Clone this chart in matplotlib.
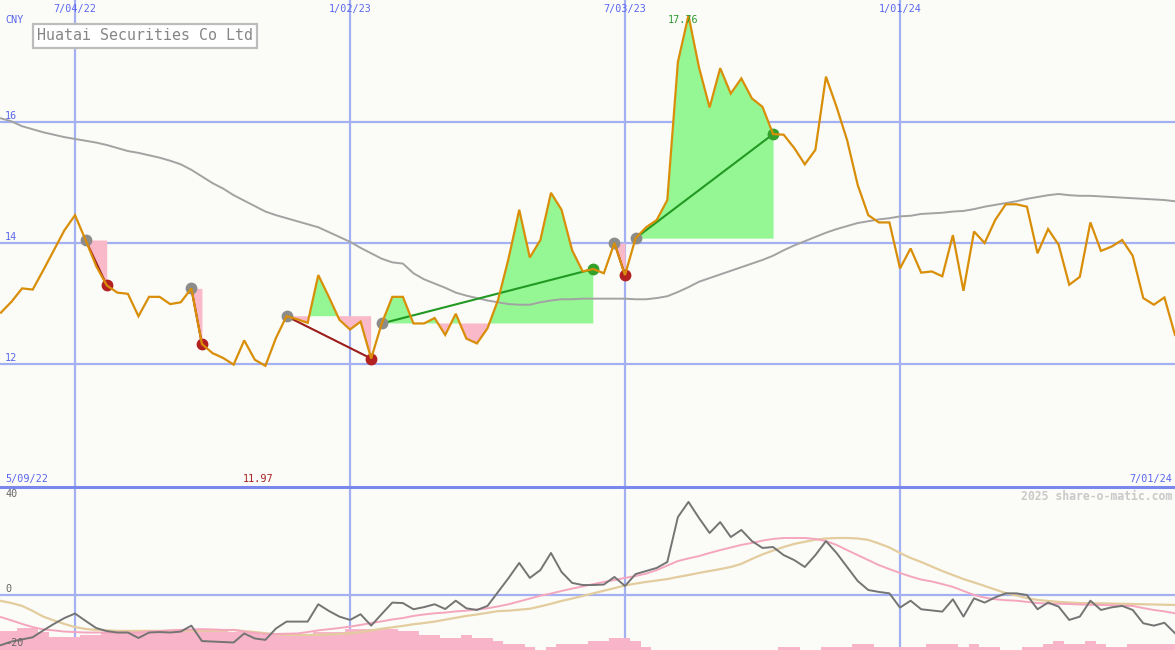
import numpy as np
import pandas as pd
import matplotlib
matplotlib.use("Agg")
import matplotlib.pyplot as plt
import matplotlib.dates as mdates
from matplotlib.transforms import blended_transform_factory
from matplotlib.lines import Line2D

# ---------------- data ----------------
dates = pd.date_range("2022-05-16", periods=112, freq="7D")

price = [12.85, 13.03, 13.25, 13.23, 13.55, 13.88, 14.21, 14.46,
         14.05, 13.62, 13.30, 13.18, 13.16, 12.79, 13.11, 13.11, 12.99, 13.02,
         13.25, 12.33, 12.18, 12.10, 11.99, 12.39, 12.07, 11.97, 12.43, 12.79,
         12.74, 12.68, 13.47, 13.11, 12.73, 12.57, 12.70, 12.09, 12.67, 13.11,
         13.11, 12.67, 12.67, 12.76, 12.48, 12.83, 12.42, 12.34, 12.59, 13.06,
         13.75, 14.55, 13.76, 14.05, 14.83, 14.55, 13.88, 13.53, 13.57, 13.50,
         14.00, 13.47, 14.08, 14.26, 14.38, 14.71, 16.99, 17.76, 16.90, 16.24,
         16.89, 16.47, 16.72, 16.39, 16.25, 15.80, 15.79, 15.57, 15.30, 15.54,
         16.75, 16.25, 15.70, 14.96, 14.46, 14.34, 14.34, 13.58, 13.91, 13.51,
         13.53, 13.45, 14.13, 13.21, 14.19, 14.00, 14.38, 14.64, 14.64, 14.60,
         13.83, 14.23, 13.97, 13.31, 13.44, 14.34, 13.87, 13.94, 14.05, 13.79,
         13.09, 12.98, 13.10, 12.48]

ma40 = [16.06, 16.01, 15.93, 15.88, 15.83, 15.79, 15.75, 15.72,
        15.69, 15.66, 15.62, 15.57, 15.52, 15.49, 15.45, 15.41, 15.36, 15.30,
        15.21, 15.10, 14.99, 14.90, 14.79, 14.70, 14.61, 14.52, 14.46, 14.41,
        14.36, 14.31, 14.26, 14.18, 14.10, 14.02, 13.92, 13.83, 13.74, 13.68,
        13.66, 13.50, 13.40, 13.33, 13.26, 13.18, 13.13, 13.09, 13.05, 13.02,
        12.99, 12.98, 12.98, 13.02, 13.05, 13.07, 13.07, 13.08, 13.08, 13.08,
        13.08, 13.08, 13.07, 13.07, 13.09, 13.12, 13.19, 13.27, 13.36, 13.42,
        13.48, 13.54, 13.60, 13.66, 13.72, 13.79, 13.88, 13.96, 14.03, 14.10,
        14.17, 14.23, 14.28, 14.33, 14.36, 14.39, 14.41, 14.44, 14.45, 14.48,
        14.49, 14.50, 14.52, 14.53, 14.56, 14.60, 14.63, 14.66, 14.69, 14.73,
        14.76, 14.79, 14.81, 14.79, 14.78, 14.78, 14.77, 14.76, 14.75, 14.74,
        14.73, 14.72, 14.71, 14.69]

osc = [-21.1, -19.6, -18.7, -17.8, -14.9, -12.2, -9.7, -7.8,
       -10.9, -13.9, -15.2, -15.8, -15.8, -18.1, -15.8, -15.6, -15.8, -15.4,
       -12.9, -19.4, -19.6, -19.8, -20.0, -16.2, -18.3, -18.9, -14.1, -11.2,
       -11.2, -11.2, -3.9, -6.7, -9.1, -10.5, -8.1, -12.9, -8.0, -3.2,
       -3.4, -6.0, -5.1, -3.9, -5.9, -2.4, -5.6, -6.3, -4.6, 1.3,
       7.2, 13.5, 7.2, 10.5, 17.7, 9.7, 5.1, 4.2, 4.2, 4.4,
       7.6, 3.8, 8.8, 10.1, 11.4, 13.9, 32.8, 39.2, 32.4, 26.1,
       30.7, 24.4, 27.4, 22.7, 19.8, 20.2, 16.8, 14.7, 11.8, 16.8,
       22.7, 17.7, 11.8, 5.9, 2.1, 1.3, 0.7, -5.3, -2.4, -6.0,
       -6.5, -7.0, -1.8, -9.1, -1.4, -3.2, -1.0, 0.7, 0.7, 0.0,
       -6.0, -3.2, -4.9, -10.5, -9.1, -2.4, -6.3, -5.2, -4.6, -6.3,
       -11.9, -12.9, -11.7, -16.1]

osc_fast = [-9.3, -10.7, -12.2, -13.5, -14.5, -14.9, -15.4, -15.6,
            -15.8, -15.8, -15.8, -15.8, -15.8, -15.8, -15.4, -15.2, -14.9, -14.7,
            -14.5, -14.4, -14.5, -14.7, -14.7, -15.4, -16.0, -16.5, -16.4, -16.3,
            -16.2, -15.6, -14.9, -14.4, -13.9, -13.3, -12.6, -11.8, -11.1, -10.3,
            -9.7, -8.8, -8.2, -7.7, -7.4, -6.9, -6.6, -6.1, -5.6, -4.8,
            -3.9, -2.7, -1.5, -0.3, 0.6, 1.7, 2.7, 3.6, 4.6, 5.5,
            6.3, 7.2, 8.0, 9.0, 10.5, 12.4, 14.3, 15.4, 16.4, 17.7,
            18.9, 20.0, 21.1, 21.9, 22.9, 23.6, 24.0, 24.0, 24.0, 23.6,
            22.7, 21.1, 18.9, 16.8, 14.7, 12.6, 10.9, 9.3, 7.8, 6.5,
            5.7, 4.6, 3.4, 1.7, 0.0, -1.1, -1.8, -2.2, -2.4, -2.9,
            -3.4, -3.6, -3.7, -3.8, -4.0, -4.1, -4.2, -4.3, -4.5, -4.6,
            -5.5, -6.3, -6.9, -7.7]

osc_slow = [-2.5, -3.4, -4.6, -6.7, -9.1, -10.7, -12.2, -13.5,
            -14.3, -14.7, -14.9, -15.1, -15.1, -15.1, -15.1, -15.1, -15.0, -15.0,
            -15.0, -15.0, -15.0, -15.0, -14.7, -15.2, -15.6, -16.1, -16.5, -16.8,
            -16.8, -16.8, -16.8, -16.6, -16.4, -16.1, -15.6, -14.9, -14.2, -13.6,
            -13.0, -12.3, -11.8, -11.2, -10.4, -9.6, -8.8, -8.2, -7.5, -6.8,
            -6.6, -6.2, -5.8, -4.8, -3.7, -2.5, -1.5, -0.4, 0.7, 1.8,
            2.9, 4.0, 4.8, 5.5, 6.1, 6.7, 7.6, 8.4, 9.3, 10.1,
            10.9, 11.8, 13.1, 15.2, 17.1, 18.7, 20.2, 21.5, 22.4, 23.3,
            23.8, 24.0, 24.0, 23.8, 23.2, 21.7, 20.0, 17.7, 15.6, 13.9,
            12.0, 10.1, 8.4, 6.7, 5.3, 3.8, 2.3, 0.8, -0.2, -1.3,
            -2.1, -2.5, -2.9, -3.2, -3.4, -3.5, -3.5, -3.6, -3.7, -3.8,
            -3.9, -4.0, -4.1, -4.2]

volume = [8.1, 8.1, 9.1, 9.1, 7.7, 5.3, 5.3, 5.3,
          6.3, 6.3, 7.3, 7.3, 7.3, 7.3, 7.3, 8.4, 8.4, 8.7,
          8.7, 8.7, 8.4, 8.4, 7.7, 7.7, 7.2, 6.3, 6.3, 6.3,
          6.3, 6.3, 7.7, 7.7, 7.7, 8.8, 8.8, 8.8, 8.8, 8.8,
          8.1, 8.1, 6.3, 6.3, 4.9, 4.9, 6.3, 4.9, 4.9, 3.8,
          2.5, 2.5, 1.1, 0.0, 1.1, 2.5, 2.5, 2.5, 3.8, 3.8,
          4.9, 4.9, 3.8, 1.1, 0.0, 0.0, 0.0, 0.0, 0.0, 0.0,
          0.0, 0.0, 0.0, 0.0, 0.0, 0.0, 1.1, 1.1, 0.0, 0.0,
          1.1, 1.1, 1.1, 2.5, 2.5, 1.1, 1.1, 1.1, 1.1, 1.1,
          2.5, 2.5, 2.5, 1.1, 2.5, 1.1, 1.1, 0.0, 0.0, 1.1,
          1.1, 2.5, 3.8, 2.5, 2.5, 3.8, 2.5, 1.1, 1.1, 2.5,
          2.5, 2.5, 2.5, 2.5]

trades = [("2022-07-11", "2022-07-25"),
          ("2022-09-19", "2022-09-26"),
          ("2022-11-21", "2023-01-16"),
          ("2023-01-23", "2023-06-12"),
          ("2023-06-26", "2023-07-03"),
          ("2023-07-10", "2023-10-09")]

grid_dates = ["2022-07-04", "2023-01-02", "2023-07-03", "2024-01-01"]
grid_labels = ["7/04/22", "1/02/23", "7/03/23", "1/01/24"]
price_ticks = [12, 14, 16]
osc_ticks = [40, 0, -20]
title = "Huatai Securities Co Ltd"
range_start_label = "5/09/22"
range_end_label = "7/01/24"
currency = "CNY"

# ---------------- style ----------------
BG = "#fbfcf8"
GRID = "#a3b1f2"
BLUE_TXT = "#5a66ee"
PINK = "#f9b9c9"
GREEN = "#94f794"
MONO = ["DejaVu Sans Mono"]

W, H = 1175.0, 650.0
fig = plt.figure(figsize=(W / 100, H / 100), dpi=100)
fig.patch.set_facecolor(BG)
ax = fig.add_axes([0, 163 / H, 1, 487 / H])
ax2 = fig.add_axes([0, 0, 1, 163 / H])
for a in (ax, ax2):
    a.set_facecolor(BG)
    for s in a.spines.values():
        s.set_visible(False)
    a.tick_params(left=False, bottom=False, labelleft=False, labelbottom=False)

x = mdates.date2num(dates)
price = np.array(price)
x0 = mdates.date2num(pd.Timestamp("2022-07-04")) - 7.091 * 7
x1 = mdates.date2num(pd.Timestamp("2024-07-01"))
for a in (ax, ax2):
    a.set_xlim(x0, x1)
ax.set_ylim(12 - 123 / 60.5, 12 + 364 / 60.5)
ax2.set_ylim(-55 / 2.375, 108 / 2.375)

gx = [mdates.date2num(pd.Timestamp(d)) for d in grid_dates]
for g in gx:
    ax.axvline(g, color=GRID, lw=1.6, zorder=0)
    ax2.axvline(g, color=GRID, lw=1.6, zorder=0)
for v in price_ticks:
    ax.axhline(v, color=GRID, lw=1.6, zorder=0)
ax2.axhline(0, color=GRID, lw=1.6, zorder=0)

# ---- top panel ----
for e, xo in trades:
    i0 = dates.get_loc(pd.Timestamp(e))
    i1 = dates.get_loc(pd.Timestamp(xo))
    xs = x[i0:i1 + 1]
    ps = price[i0:i1 + 1]
    lvl = price[i0]
    ax.fill_between(xs, ps, lvl, where=ps >= lvl, interpolate=True,
                    color=GREEN, lw=0, zorder=1)
    ax.fill_between(xs, ps, lvl, where=ps <= lvl, interpolate=True,
                    color=PINK, lw=0, zorder=1)

ax.plot(x, ma40, color="#a2a2a2", lw=1.4, zorder=2)

for e, xo in trades:
    i0 = dates.get_loc(pd.Timestamp(e))
    i1 = dates.get_loc(pd.Timestamp(xo))
    win = price[i1] > price[i0]
    ax.plot([x[i0], x[i1]], [price[i0], price[i1]],
            color="#229922" if win else "#9b1c1c", lw=1.5, zorder=3)
    ax.plot(x[i0], price[i0], "o", ms=7.5, mfc="#8c8c8c", mec="#8c8c8c", zorder=4)
    c = "#33a02c" if win else "#b22020"
    ax.plot(x[i1], price[i1], "o", ms=7.5, mfc=c, mec=c, zorder=4)

ax.plot(x, price, color="#d98e08", lw=1.6, zorder=5, solid_joinstyle="miter")

bt = blended_transform_factory(ax.transData, ax.transAxes)
for g, lab in zip(gx, grid_labels):
    ax.text(g, 1 - 9 / 487, lab, transform=bt, ha="center", va="center",
            color=BLUE_TXT, fontsize=7.3, family=MONO)
ty = blended_transform_factory(ax.transAxes, ax.transData)
for v in price_ticks:
    ax.text(5 / W, v + 6 / 60.5, str(v), transform=ty, ha="left", va="center",
            color=BLUE_TXT, fontsize=7.3, family=MONO)
ax.text(5 / W, 1 - 20 / 487, currency, transform=ax.transAxes, ha="left",
        va="center", color=BLUE_TXT, fontsize=7.3, family=MONO)
ax.text(5 / W, 8 / 487, range_start_label, transform=ax.transAxes, ha="left",
        va="center", color=BLUE_TXT, fontsize=7.3, family=MONO)
ax.text(1172 / W, 8 / 487, range_end_label, transform=ax.transAxes, ha="right",
        va="center", color=BLUE_TXT, fontsize=7.3, family=MONO)

imax = int(np.argmax(price))
imin = int(np.argmin(price))
ax.annotate(f"{price[imax]:.2f}", xy=(x[imax], price[imax]), xytext=(-4, -3),
            textcoords="offset points", ha="center", va="center",
            color="#2e9a2e", fontsize=7.3, family=MONO, zorder=6)
ax.annotate(f"{price[imin]:.2f}", xy=(x[imin], 8 / 487), xycoords=bt,
            xytext=(-5, 0), textcoords="offset points", ha="center",
            va="center", color="#a82020", fontsize=7.3, family=MONO)

fig.text(37 / W, 1 - 36 / H, title, ha="left", va="center", color="#868686",
         fontsize=10.8, family=MONO,
         bbox=dict(boxstyle="square,pad=0.28", fc="white", ec="#bcbcbc", lw=1.6))

# ---- bottom panel ----
ymin = ax2.get_ylim()[0]
ax2.bar(x, volume, width=7.0, bottom=ymin, color="#f8b5ca", lw=0, zorder=1)
ax2.plot(x, osc_slow, color="#e3cc9d", lw=1.6, zorder=2)
ax2.plot(x, osc_fast, color="#f5a6bf", lw=1.4, zorder=3)
ax2.plot(x, osc, color="#747474", lw=1.4, zorder=4)

ty2 = blended_transform_factory(ax2.transAxes, ax2.transData)
for v in osc_ticks:
    off = 6 / 2.375 if v != -20 else 0
    ax2.text(5 / W, v + off, str(v), transform=ty2, ha="left", va="center",
             color="#666666", fontsize=7.3, family=MONO, zorder=6)

fig.text(1172 / W, 1 - 496 / H, "2025 share-o-matic.com", ha="right",
         va="center", color="#c9c9c9", fontsize=8.3, fontweight="bold",
         family=MONO)

fig.add_artist(Line2D([0, 1], [1 - 487 / H, 1 - 487 / H],
                      transform=fig.transFigure, color="#7a88ee", lw=2.2))

fig.savefig("out.png", dpi=100, facecolor=BG)
